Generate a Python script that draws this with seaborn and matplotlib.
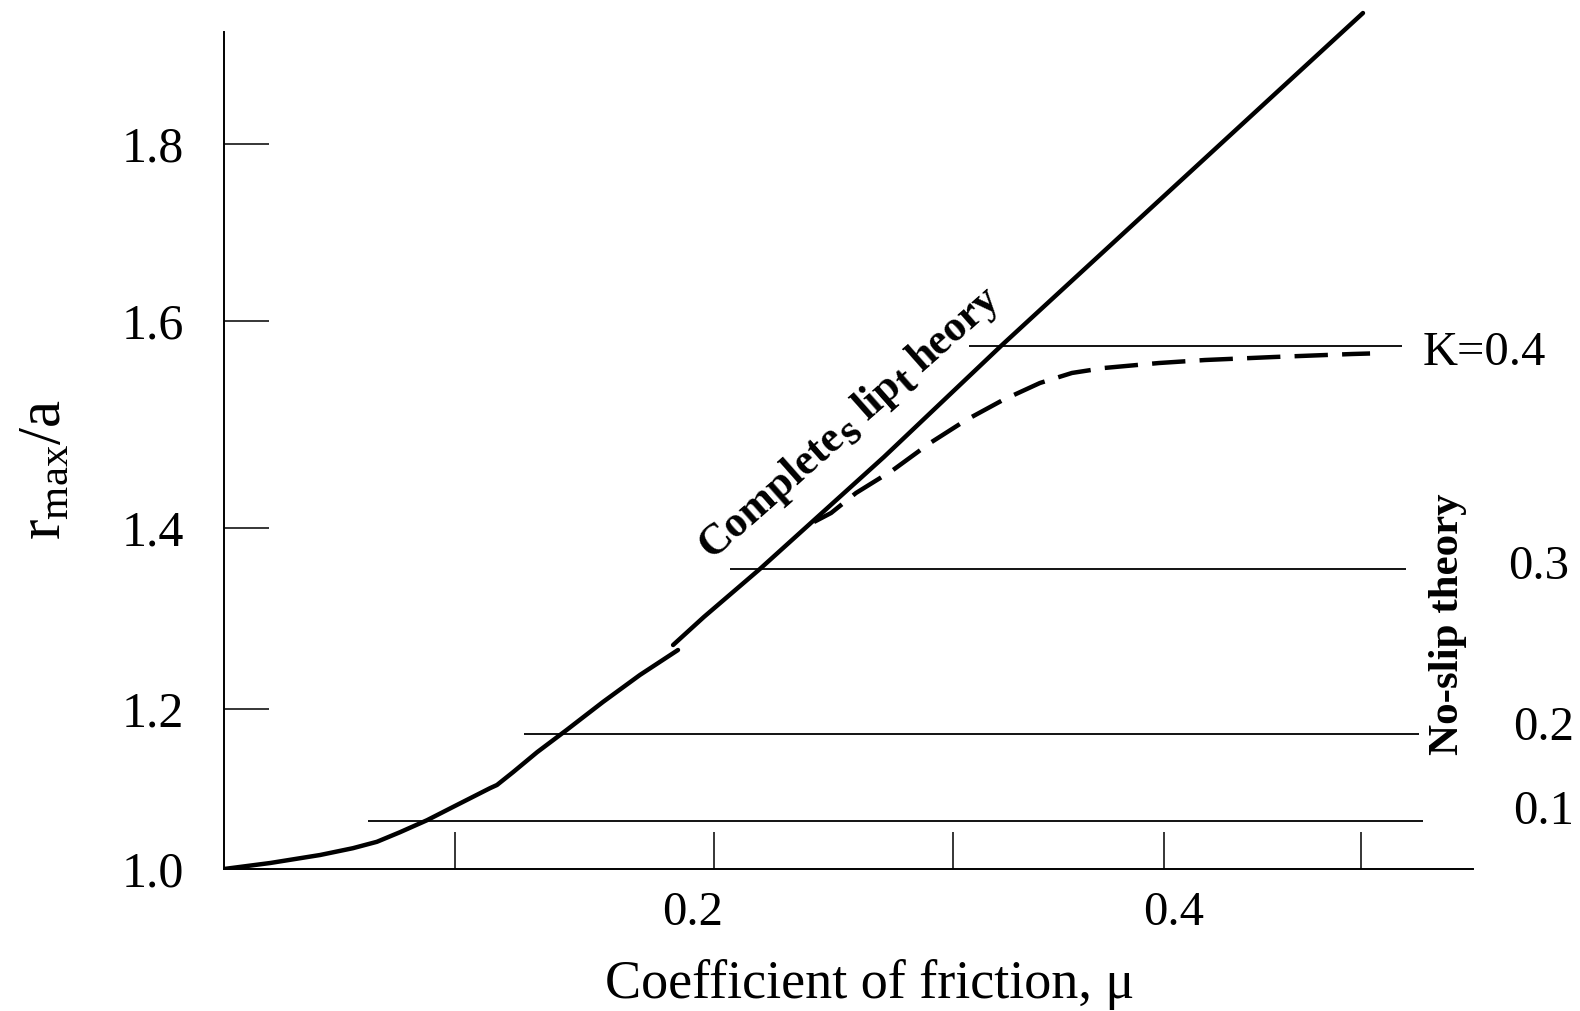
import numpy as np
import pandas as pd
import matplotlib
matplotlib.use("Agg")
import matplotlib.pyplot as plt
import matplotlib.transforms as mtransforms
import seaborn as sns

# ---------------- data ----------------
# complete slip theory (two drawn pieces)
MU_SLIP = [0.0, 0.020, 0.0416, 0.0558, 0.0662, 0.0762, 0.0879, 0.0991, 0.1135, 0.1162,
           0.1224, 0.1317, 0.1432, 0.1571, 0.1714, 0.1861,
           0.1842, 0.1961, 0.2192, 0.2711, 0.3227, 0.501]
R_SLIP = [1.0, 1.0075, 1.0175, 1.026, 1.034, 1.046, 1.061, 1.0775, 1.101, 1.105,
          1.121, 1.146, 1.174, 1.2077, 1.2376, 1.2652,
          1.2707, 1.3017, 1.3547, 1.4686, 1.5758, 1.948]
SLIP_PIECE = [0] * 16 + [1] * 6

# dashed transition curve (K = 0.4)
MU_DASH = [0.2418, 0.2490, 0.2594, 0.2749, 0.2904, 0.3062, 0.3237, 0.3412, 0.3564,
           0.3716, 0.3976, 0.4208, 0.4558, 0.4954, 0.5046]
R_DASH = [1.4058, 1.4145, 1.4338, 1.456, 1.4821, 1.5043, 1.5237, 1.5401, 1.5498,
          1.5546, 1.5594, 1.5623, 1.5652, 1.5681, 1.5686]

# no-slip theory levels
K_LABELS = ["K=0.4", "0.3", "0.2", "0.1"]
K_LEVEL = [1.5758, 1.3547, 1.1688, 1.060]
K_START = [0.3076, 0.2067, 0.1266, 0.0623]
K_END = [0.5208, 0.5228, 0.5294, 0.5315]

X_TICKS = [0.1, 0.2, 0.3, 0.4, 0.5]
X_TICKLABELS = ["", "0.2", "", "0.4", ""]
Y_TICKS = [1.0, 1.2, 1.4, 1.6, 1.8]
Y_TICKLABELS = ["1.0", "1.2", "1.4", "1.6", "1.8"]

# axis scale knots (the original drawing has unevenly spaced ticks)
MU_KNOTS = [0.0, 0.1, 0.2, 0.3, 0.4, 0.5]
MU_SPACING = [0, 231, 490, 729, 940, 1137]
R_KNOTS = [1.0, 1.2, 1.4, 1.6, 1.8]
R_SPACING = [0, 160, 341, 548, 725]


def make_pw(xs, ys):
    xs = np.asarray(xs, float)
    ys = np.asarray(ys, float)
    lo_s = (ys[1] - ys[0]) / (xs[1] - xs[0])
    hi_s = (ys[-1] - ys[-2]) / (xs[-1] - xs[-2])

    def f(v):
        v = np.asarray(v, float)
        out = np.interp(v, xs, ys)
        out = np.where(v < xs[0], ys[0] + (v - xs[0]) * lo_s, out)
        out = np.where(v > xs[-1], ys[-1] + (v - xs[-1]) * hi_s, out)
        return out
    return f


# ---------------- style ----------------
sns.set_theme(style="white")
plt.rcParams["font.family"] = ["Liberation Serif", "DejaVu Serif"]
plt.rcParams["mathtext.fontset"] = "custom"
plt.rcParams["mathtext.rm"] = "Liberation Serif"
plt.rcParams["mathtext.it"] = "Liberation Serif:italic"
plt.rcParams["mathtext.bf"] = "Liberation Serif:bold"

W, H = 1580, 1011
fig = plt.figure(figsize=(W / 100, H / 100), dpi=100)
fig.patch.set_facecolor("white")
ax = fig.add_axes([224 / W, (H - 869) / H, (1473 - 224) / W, (869 - 10) / H])
ax.set_facecolor("white")

ax.set_xscale("function", functions=(make_pw(MU_KNOTS, MU_SPACING), make_pw(MU_SPACING, MU_KNOTS)))
ax.set_yscale("function", functions=(make_pw(R_KNOTS, R_SPACING), make_pw(R_SPACING, R_KNOTS)))

slip = pd.DataFrame({"mu": MU_SLIP, "r": R_SLIP, "piece": SLIP_PIECE})
sns.lineplot(data=slip, x="mu", y="r", units="piece", estimator=None, sort=False,
             color="black", lw=3.2, ax=ax, legend=False)

dash = pd.DataFrame({"mu": MU_DASH, "r": R_DASH})
sns.lineplot(data=dash, x="mu", y="r", estimator=None, sort=False, color="black",
             lw=3.2, linestyle=(0, (7.5, 3.2)), ax=ax, legend=False)

ax.hlines(K_LEVEL, K_START, K_END, color="black", lw=1.3)

ax.set_xlim(0.0, 0.55685)
ax.set_ylim(1.0, 1.9514)

for s in ["top", "right"]:
    ax.spines[s].set_visible(False)
for s in ["left", "bottom"]:
    ax.spines[s].set_color("black")
    ax.spines[s].set_linewidth(1.4)
ax.spines["left"].set_bounds(1.0, 1.9266)

ax.set_xticks(X_TICKS)
ax.set_xticklabels(X_TICKLABELS)
ax.set_yticks(Y_TICKS)
ax.set_yticklabels(Y_TICKLABELS)
ax.tick_params(axis="x", bottom=True, direction="in", length=26.5, width=1.1, color="black",
               labelsize=35, pad=16, labelcolor="black")
ax.tick_params(axis="y", left=True, direction="in", length=32.5, width=1.1, color="black",
               labelsize=36, pad=29, labelcolor="black")
ax.grid(False)

# the original drawing sets its x labels slightly off the tick marks
X_LABEL_SHIFT_PX = [0, -21, 0, 10, 0]
for tick, shift in zip(ax.xaxis.get_major_ticks(), X_LABEL_SHIFT_PX):
    lab = tick.label1
    lab.set_transform(lab.get_transform() +
                      mtransforms.ScaledTranslation(shift / 100, 0, fig.dpi_scale_trans))

ax.set_xlabel("Coefficient of friction, μ", fontsize=39, color="black")
ax.xaxis.set_label_coords(0.5172, -0.135)
ax.xaxis.label.set_verticalalignment("center")
ax.set_ylabel(r"$\mathregular{r_{max}/a}$", fontsize=44, color="black")
ax.yaxis.set_label_coords(-0.1433, 0.4657)
ax.yaxis.label.set_verticalalignment("center")

# right-hand level labels
K_LABEL_X = [0.5315, 0.5746, 0.5772, 0.5772]
K_LABEL_Y = [1.5691, 1.3569, 1.1763, 1.0713]
for lab, xx, yy in zip(K_LABELS, K_LABEL_X, K_LABEL_Y):
    ax.text(xx, yy, lab, fontsize=35, ha="left", va="center", color="black", clip_on=False)

ax.text(0.5442, 1.2939, "No-slip theory", fontsize=31, fontweight="bold", rotation=90,
        ha="center", va="center", color="black", clip_on=False)

# "Completes lipt heory" label, drawn as in the original with lowered s and t
pieces = [("Complete", 0), ("s", -8), ("lip", 0), ("t", -8), ("heory", 0)]
full_parts = ["Complete", "s", " lip", "t", " heory"]
renderer = fig.canvas.get_renderer()
FS_SLIP = 31.5


def text_w(s):
    t = fig.text(0, 0, s, fontsize=FS_SLIP, fontweight="bold")
    w = t.get_window_extent(renderer).width
    t.remove()
    return w


ang = 41.5
ca, sa = np.cos(np.radians(ang)), np.sin(np.radians(ang))
x0, y0 = 0.1990, 1.366
prefix = ""
for (piece, drop), part in zip(pieces, full_parts):
    prefix_full = prefix + part
    adv = text_w(prefix_full) - text_w(piece)
    dx = adv * ca - drop * sa
    dy = adv * sa + drop * ca
    tr = ax.transData + mtransforms.ScaledTranslation(dx / 100, dy / 100, fig.dpi_scale_trans)
    ax.text(x0, y0, piece, fontsize=FS_SLIP, fontweight="bold", rotation=ang,
            rotation_mode="anchor", ha="left", va="baseline", color="black",
            transform=tr, clip_on=False)
    prefix = prefix_full

fig.savefig("out.png", dpi=100, facecolor="white")
